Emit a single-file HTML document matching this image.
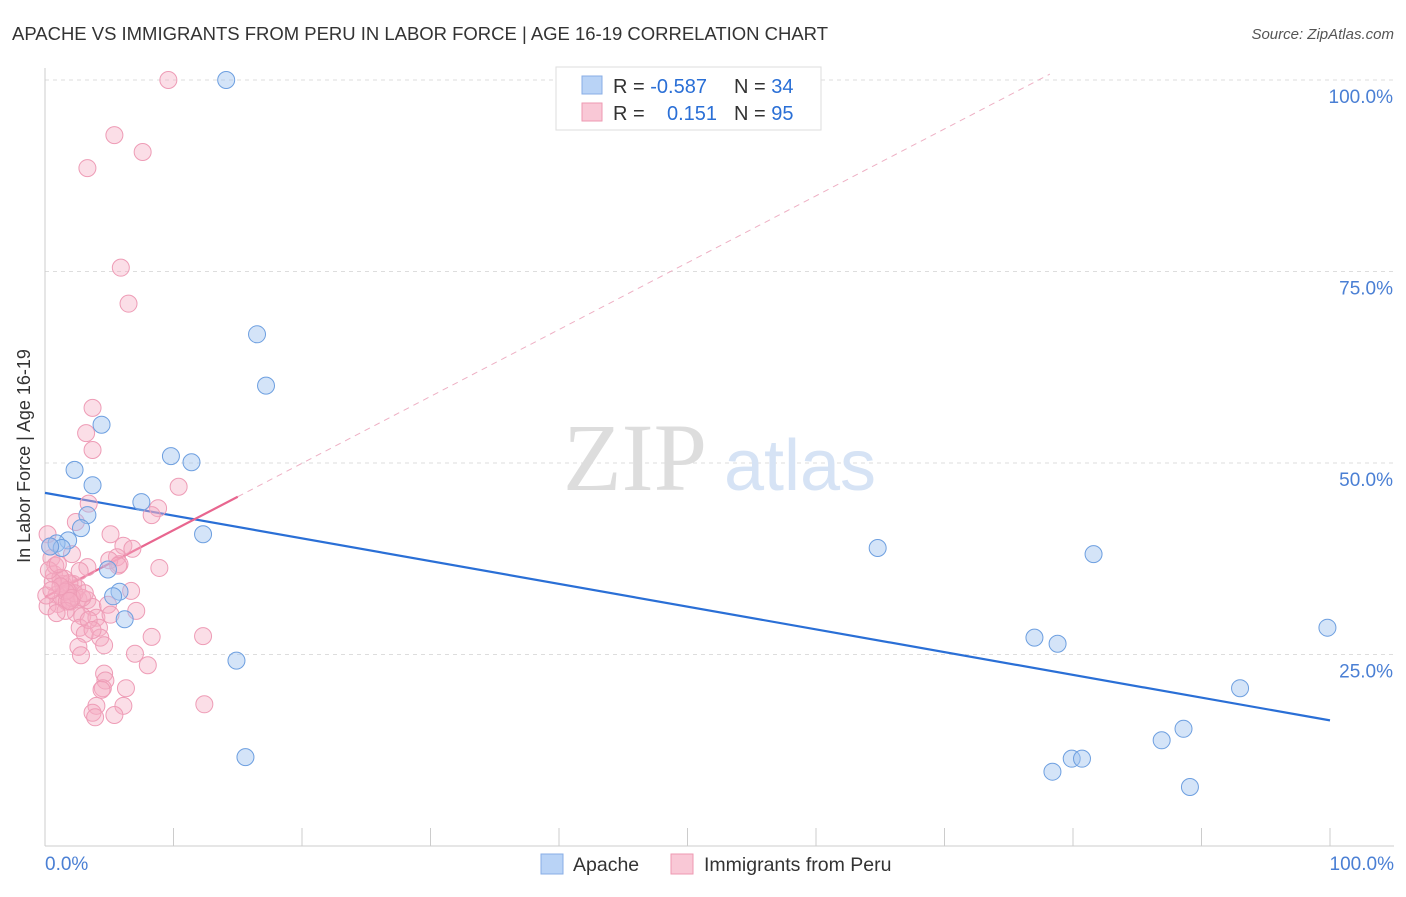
<!DOCTYPE html>
<html><head><meta charset="utf-8"><style>
body{margin:0;background:#fff;font-family:"Liberation Sans",sans-serif}
</style></head><body>
<svg width="1406" height="892" xmlns="http://www.w3.org/2000/svg" style="font-family:'Liberation Sans',sans-serif">
<text x="12" y="40" font-size="18.5" fill="#333" textLength="816">APACHE VS IMMIGRANTS FROM PERU IN LABOR FORCE | AGE 16-19 CORRELATION CHART</text>
<text x="1394" y="39" font-size="15" fill="#555" text-anchor="end" font-style="italic">Source: ZipAtlas.com</text>
<g id="grid"></g>
<line x1="45" y1="68" x2="45" y2="846" stroke="#ccc"/>
<line x1="45" y1="846" x2="1394" y2="846" stroke="#ccc"/>
<g id="xticks"></g>
<text x="30" y="456" font-size="18" fill="#333" text-anchor="middle" transform="rotate(-90 30 456)">In Labor Force | Age 16-19</text>
<text x="45" y="870" font-size="19" fill="#4a7fd4">0.0%</text>
<text x="1394" y="870" font-size="19" fill="#4a7fd4" text-anchor="end">100.0%</text>
<g><text x="635" y="490" font-size="96" fill="#ddd" font-family="Liberation Serif" text-anchor="middle">ZIP</text><text x="800" y="490" font-size="72" fill="#d6e3f5" text-anchor="middle">atlas</text></g>
<g id="lines"></g>
<g id="pink"></g>
<g id="blue"></g>
<g>
<rect x="556" y="67" width="265" height="63" fill="#fff" stroke="#ddd"/>
<rect x="582" y="76" width="20" height="18" fill="#b9d3f6" stroke="#88aee6"/>
<rect x="582" y="103" width="20" height="18" fill="#f9c8d6" stroke="#ee99b2"/>
<text x="613" y="93" font-size="20" fill="#333">R = <tspan fill="#2a6fd6">-0.587</tspan><tspan x="734">N = </tspan><tspan fill="#2a6fd6">34</tspan></text>
<text x="613" y="120" font-size="20" fill="#333">R = <tspan x="667" fill="#2a6fd6">0.151</tspan><tspan x="734">N = </tspan><tspan fill="#2a6fd6">95</tspan></text>
</g>
<g>
<rect x="541" y="854" width="22" height="20" fill="#b9d3f6" stroke="#88aee6"/>
<text x="573" y="871" font-size="19.5" fill="#333">Apache</text>
<rect x="671" y="854" width="22" height="20" fill="#f9c8d6" stroke="#ee99b2"/>
<text x="704" y="871" font-size="19.5" fill="#333">Immigrants from Peru</text>
</g>
</svg>
<script>
const yTicks=[25,50,75,100];
const yTickLabels=["25.0%","50.0%","75.0%","100.0%"];
const xTicks=[0,10,20,30,40,50,60,70,80,90,100];
const apacheX=[14.1,16.5,17.2,4.4,9.8,11.4,2.3,3.7,7.5,3.3,2.8,12.3,1.8,0.9,1.3,4.9,5.8,5.3,6.2,14.9,15.6,64.8,81.6,77.0,78.8,99.8,93.0,88.6,86.9,79.9,80.7,78.4,89.1,0.4];
const apacheY=[100,66.8,60.1,55.0,50.9,50.1,49.1,47.1,44.9,43.2,41.5,40.7,39.9,39.5,38.9,36.1,33.2,32.6,29.6,24.2,11.6,38.9,38.1,27.2,26.4,28.5,20.6,15.3,13.8,11.4,11.4,9.7,7.7,39.1];
const peruX=[9.6,5.4,7.6,3.3,5.9,6.5,3.7,3.2,3.7,10.4,3.4,8.8,8.3,2.4,5.1,6.1,6.8,5.6,0.2,0.5,2.1,3.3,8.9,5.8,0.7,1.2,1.4,2.2,2.5,1.8,0.9,1.5,2.0,6.7,1.0,1.7,2.6,3.3,3.7,4.9,7.1,0.2,2.4,2.9,4.0,2.7,3.1,4.2,4.3,4.6,2.6,2.8,8.3,12.3,7.0,8.0,4.6,4.7,4.5,6.3,4.4,6.1,4.0,3.7,3.9,5.4,12.4,0.4,0.8,1.5,1.9,2.3,1.2,1.7,2.9,5.1,0.1,0.6,1.6,2.1,3.1,1.2,5.0,5.7,2.7,0.3,1.0,1.6,3.4,3.7,0.5,1.9,0.9];
const peruY=[100,92.8,90.6,88.5,75.5,70.8,57.2,53.9,51.7,46.9,44.7,44.1,43.2,42.3,40.7,39.2,38.8,37.7,40.7,37.6,38.1,36.4,36.3,36.8,35.5,35.0,34.2,34.2,33.7,33.3,32.8,32.2,31.9,33.3,31.6,31.9,32.2,32.1,31.2,31.5,30.7,31.3,30.4,30.0,29.8,28.5,27.7,28.5,27.2,26.2,26.0,24.9,27.3,27.4,25.1,23.6,22.5,21.6,20.6,20.6,20.4,18.3,18.3,17.4,16.8,17.1,18.5,39.1,36.6,34.9,34.3,33.0,35.0,33.4,32.4,30.2,32.7,34.5,33.2,32.4,33.0,33.9,37.3,36.6,35.9,36.0,36.8,30.7,29.5,28.2,33.4,32.0,30.4];
const X=v=>45+v*12.85, Y=v=>846-v*7.66;
const NS="http://www.w3.org/2000/svg";
function mk(t,a,p){const e=document.createElementNS(NS,t);for(const k in a)e.setAttribute(k,a[k]);p.appendChild(e);return e;}
const grid=document.getElementById('grid');
yTicks.forEach((t,i)=>{
 const l=mk('line',{x1:45,x2:1394,y1:Y(t),y2:Y(t),stroke:'#ddd','stroke-dasharray':'4,4'},grid);
 
 
 const tx=mk('text',{x:1393,y:Y(t)+23,'font-size':19,fill:'#4a7fd4','text-anchor':'end'},grid);
 tx.textContent=yTickLabels[i];
 
 
});
const xt=document.getElementById('xticks');
xTicks.forEach(t=>{const l=mk('line',{x1:X(t),x2:X(t),y1:828,y2:846,stroke:'#ccc'},xt);
 
 });
const lines=document.getElementById('lines');
const bl=mk('line',{x1:X(0),y1:Y(46.1),x2:X(100),y2:Y(16.4),stroke:'#2a6fd6','stroke-width':2.2},lines);


const pd=mk('line',{x1:X(15),y1:Y(32.5+15*0.873),x2:X(78.2),y2:Y(32.5+78.2*0.873),stroke:'#eeb0c4','stroke-width':1,'stroke-dasharray':'6,5'},lines);


const ps=mk('line',{x1:X(0),y1:Y(32.5),x2:X(15),y2:Y(32.5+15*0.873),stroke:'#e8668f','stroke-width':2.2},lines);


const pg=document.getElementById('pink');
peruX.forEach((x,i)=>{const c=mk('circle',{cx:X(x),cy:Y(peruY[i]),r:8.5,fill:'rgba(246,172,196,0.4)',stroke:'#ee9cb6','stroke-width':1},pg);
 
 });
const bg=document.getElementById('blue');
apacheX.forEach((x,i)=>{const c=mk('circle',{cx:X(x),cy:Y(apacheY[i]),r:8.5,fill:'rgba(160,196,240,0.45)',stroke:'#6d9fe0','stroke-width':1},bg);
 
 });
</script>
</body></html>
